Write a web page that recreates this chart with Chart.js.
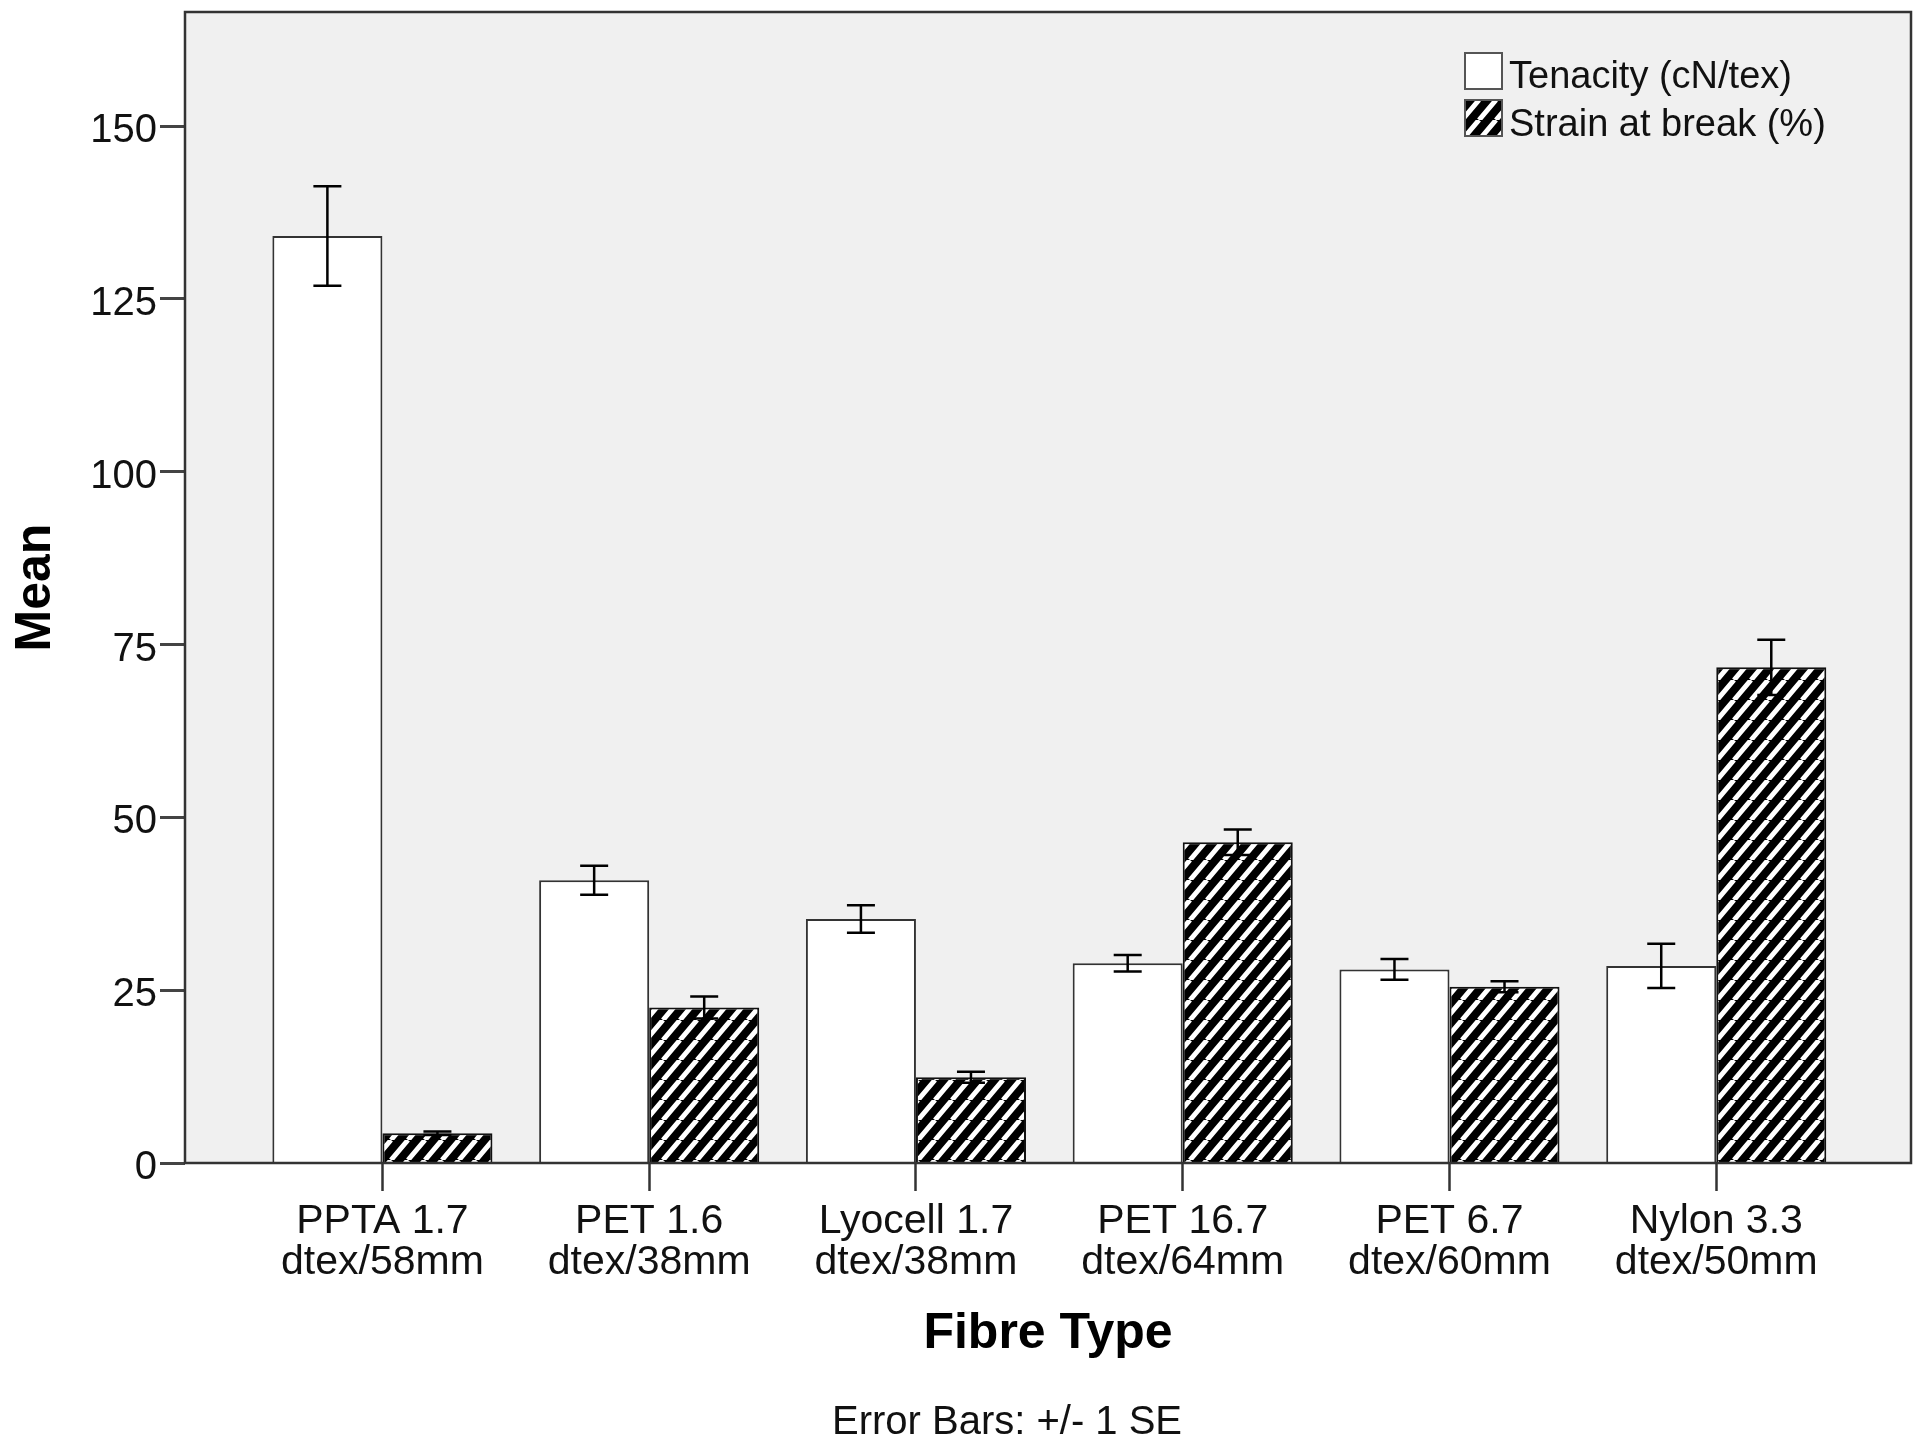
<!DOCTYPE html>
<html>
<head>
<meta charset="utf-8">
<script src="https://cdn.jsdelivr.net/npm/chart.js@4.4.1/dist/chart.umd.min.js"></script>
<style>
  body { margin: 0; background: #fff; }
  canvas { display: block; }
</style>
</head>
<body>
<canvas id="myChart" width="1932" height="1453"></canvas>
<script>
// Fibre types (two-line tick labels)
var categories = [
  ['PPTA 1.7', 'dtex/58mm'],
  ['PET 1.6', 'dtex/38mm'],
  ['Lyocell 1.7', 'dtex/38mm'],
  ['PET 16.7', 'dtex/64mm'],
  ['PET 6.7', 'dtex/60mm'],
  ['Nylon 3.3', 'dtex/50mm']
];

var tenacity = [134.1, 40.9, 35.3, 28.9, 28.0, 28.5];
var tenacitySE = [7.2, 2.1, 2.0, 1.2, 1.5, 3.2];

var strain = [4.3, 22.5, 12.4, 46.4, 25.5, 71.7];
var strainSE = [0.25, 1.6, 0.8, 1.85, 0.8, 4.0];

var yTicks = [0, 25, 50, 75, 100, 125, 150];

var seriesNames = ['Tenacity (cN/tex)', 'Strain at break (%)'];

Chart.defaults.font.family = '"Liberation Sans", Arial, sans-serif';
Chart.defaults.color = '#111';

// diagonal hatch used for strain bars
function makeHatch() {
  var w = 17, h = 20;
  var c = document.createElement('canvas');
  c.width = w; c.height = h;
  var g = c.getContext('2d');
  g.fillStyle = '#000';
  g.fillRect(0, 0, w, h);
  g.strokeStyle = '#fff';
  g.lineWidth = 5;
  g.beginPath();
  for (var k = 0; k < 3; k++) {
    g.moveTo(k * w, 0);
    g.lineTo(k * w - w, h);
  }
  g.stroke();
  return g.createPattern(c, 'repeat');
}
var hatch = makeHatch();

function toPoints(arr) {
  return arr.map(function (v, i) { return {x: i, y: v}; });
}

// plot background + frame
var framePlugin = {
  id: 'frame',
  beforeDraw: function (chart) {
    var a = chart.chartArea, ctx = chart.ctx;
    ctx.save();
    ctx.fillStyle = '#f0f0f0';
    ctx.fillRect(a.left, a.top, a.right - a.left, a.bottom - a.top);
    ctx.restore();
  },
  afterDatasetsDraw: function (chart) {
    var a = chart.chartArea, ctx = chart.ctx;
    ctx.save();
    ctx.strokeStyle = '#333';
    ctx.lineWidth = 2.5;
    ctx.strokeRect(a.left, a.top, a.right - a.left, a.bottom - a.top);
    ctx.restore();
  }
};

// +/- 1 SE error bars
var errorPlugin = {
  id: 'errorBars',
  afterDatasetsDraw: function (chart) {
    var ctx = chart.ctx, yScale = chart.scales.y;
    var errs = [tenacitySE, strainSE];
    ctx.save();
    ctx.strokeStyle = '#000';
    ctx.lineWidth = 2.5;
    chart.data.datasets.forEach(function (ds, d) {
      var meta = chart.getDatasetMeta(d);
      meta.data.forEach(function (bar, i) {
        var v = ds.data[i].y, e = errs[d][i];
        var yHi = yScale.getPixelForValue(v + e);
        var yLo = yScale.getPixelForValue(v - e);
        var x = bar.x, cap = 14;
        ctx.beginPath();
        ctx.moveTo(x, yHi); ctx.lineTo(x, yLo);
        ctx.moveTo(x - cap, yHi); ctx.lineTo(x + cap, yHi);
        ctx.moveTo(x - cap, yLo); ctx.lineTo(x + cap, yLo);
        ctx.stroke();
      });
    });
    ctx.restore();
  }
};

// legend inside the plot + footnote
var notesPlugin = {
  id: 'notes',
  afterDraw: function (chart) {
    var ctx = chart.ctx, a = chart.chartArea;
    var bx = a.right - 446, by = a.top + 41;
    ctx.save();
    ctx.lineWidth = 2;
    ctx.strokeStyle = '#555';
    ctx.fillStyle = '#fff';
    ctx.fillRect(bx, by, 37, 36);
    ctx.strokeRect(bx, by, 37, 36);
    ctx.fillStyle = hatch;
    ctx.fillRect(bx, by + 47, 37, 36);
    ctx.strokeRect(bx, by + 47, 37, 36);

    ctx.fillStyle = '#111';
    ctx.font = '38px "Liberation Sans", Arial, sans-serif';
    ctx.textAlign = 'left';
    ctx.textBaseline = 'alphabetic';
    ctx.fillText(seriesNames[0], bx + 44, by + 35);
    ctx.fillText(seriesNames[1], bx + 44, by + 83);

    ctx.font = '40px "Liberation Sans", Arial, sans-serif';
    ctx.textAlign = 'center';
    ctx.textBaseline = 'middle';
    ctx.fillText('Error Bars: +/- 1 SE', 1007, 1423);
    ctx.restore();
  }
};

var data = {
  datasets: [
    {
      label: seriesNames[0],
      data: toPoints(tenacity),
      backgroundColor: '#ffffff',
      borderColor: '#333',
      borderWidth: 2
    },
    {
      label: seriesNames[1],
      data: toPoints(strain),
      backgroundColor: hatch,
      borderColor: '#111',
      borderWidth: 2
    }
  ]
};

var config = {
  type: 'bar',
  data: data,
  plugins: [framePlugin, errorPlugin, notesPlugin],
  options: {
    responsive: false,
    animation: false,
    devicePixelRatio: 1,
    layout: { padding: { top: 12, right: 21, bottom: 0, left: 0 } },
    datasets: {
      bar: { categoryPercentage: 0.825, barPercentage: 1.0 }
    },
    plugins: {
      legend: { display: false },
      tooltip: { enabled: false }
    },
    scales: {
      x: {
        type: 'linear',
        position: 'bottom',
        min: -0.74,
        max: 5.73,
        offset: false,
        afterBuildTicks: function (scale) {
          scale.ticks = categories.map(function (c, i) { return {value: i}; });
        },
        afterFit: function (scale) {
          scale.height = 290;
          scale.paddingLeft = 0;
          scale.paddingRight = 0;
        },
        ticks: {
          autoSkip: false,
          maxRotation: 0,
          padding: 10,
          font: { size: 41, lineHeight: 1.0 },
          color: '#111',
          callback: function (v) { return categories[v]; }
        },
        grid: {
          offset: false,
          drawOnChartArea: false,
          drawTicks: true,
          tickLength: 28,
          tickWidth: 2.5,
          tickColor: '#333'
        },
        border: { display: false },
        title: {
          display: true,
          text: 'Fibre Type',
          font: { size: 50, weight: 'bold' },
          color: '#000',
          padding: { top: 0, bottom: 89 }
        }
      },
      y: {
        min: 0,
        max: 166.5,
        afterBuildTicks: function (scale) {
          scale.ticks = yTicks.map(function (v) { return {value: v}; });
        },
        afterFit: function (scale) {
          scale.width = 185;
          scale.paddingTop = 0;
          scale.paddingBottom = 0;
        },
        ticks: {
          padding: 3,
          labelOffset: 5,
          font: { size: 40 },
          color: '#111'
        },
        grid: {
          drawOnChartArea: false,
          drawTicks: true,
          tickLength: 25,
          tickWidth: 3,
          tickColor: '#444'
        },
        border: { display: false },
        title: {
          display: true,
          text: 'Mean',
          font: { size: 50, weight: 'bold' },
          color: '#000',
          padding: { top: 6, bottom: 0 }
        }
      }
    }
  }
};

var ctx = document.getElementById('myChart').getContext('2d');
var chart = new Chart(ctx, config);
</script>
</body>
</html>
